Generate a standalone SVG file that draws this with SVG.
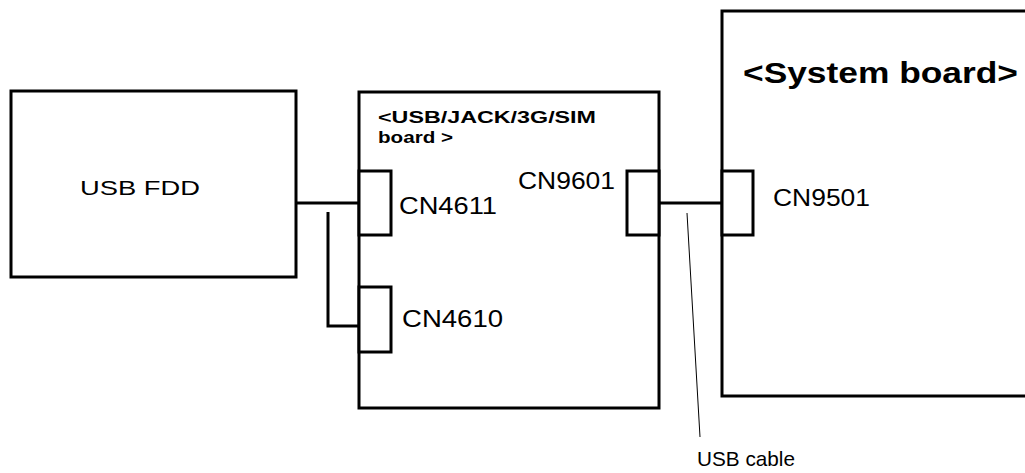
<svg xmlns="http://www.w3.org/2000/svg" width="1025" height="473" viewBox="0 0 1025 473">
<style>
.box{fill:#fff;stroke:#000;stroke-width:3}
.conn{fill:#fff;stroke:#000;stroke-width:3}
.wire{fill:none;stroke:#000;stroke-width:3}
.lead{fill:none;stroke:#000;stroke-width:1}
text{font-family:"Liberation Sans",Arial,sans-serif;fill:#000}
.lbl{font-size:21px}
.cn{font-size:23px}
.ttl{font-size:17px;font-weight:bold}
.big{font-size:30px;font-weight:bold}
</style>
<rect width="1025" height="473" fill="#fff"/>
<g id="usb-fdd">
<rect class="box" x="11" y="91" width="285" height="186"/>
<text class="lbl" x="80" y="195" textLength="120" lengthAdjust="spacingAndGlyphs">USB FDD</text>
</g>
<g id="usb-jack-board">
<rect class="box" x="359" y="92" width="300" height="316"/>
<text class="ttl" x="378" y="123" textLength="218" lengthAdjust="spacingAndGlyphs">&lt;USB/JACK/3G/SIM</text>
<text class="ttl" x="378" y="143" textLength="75" lengthAdjust="spacingAndGlyphs">board &gt;</text>
</g>
<g id="cn4611">
<rect class="conn" x="359" y="171" width="32" height="64"/>
<text class="cn" x="399" y="214" textLength="98" lengthAdjust="spacingAndGlyphs">CN4611</text>
</g>
<g id="cn4610">
<rect class="conn" x="359" y="287" width="32" height="65"/>
<text class="cn" x="402" y="327" textLength="101" lengthAdjust="spacingAndGlyphs">CN4610</text>
</g>
<g id="cn9601">
<rect class="conn" x="627" y="171" width="32" height="64"/>
<text class="cn" x="518" y="189" textLength="97" lengthAdjust="spacingAndGlyphs">CN9601</text>
</g>
<g id="system-board">
<rect class="box" x="722" y="11" width="320" height="385"/>
<text class="big" x="743" y="83" textLength="275" lengthAdjust="spacingAndGlyphs">&lt;System board&gt;</text>
</g>
<g id="cn9501">
<rect class="conn" x="722" y="171" width="31" height="64"/>
<text class="cn" x="773" y="206" textLength="97" lengthAdjust="spacingAndGlyphs">CN9501</text>
</g>
<g id="connectors">
<line class="wire" x1="296" y1="203" x2="359" y2="203"/>
<polyline class="wire" points="328,212 328,326 359,326"/>
<line class="wire" x1="659" y1="203" x2="722" y2="203"/>
<line class="lead" x1="687" y1="213" x2="700" y2="437"/>
</g>
<g id="usb-cable-label">
<text class="lbl" x="697" y="466" textLength="98" lengthAdjust="spacingAndGlyphs">USB cable</text>
</g>
</svg>
